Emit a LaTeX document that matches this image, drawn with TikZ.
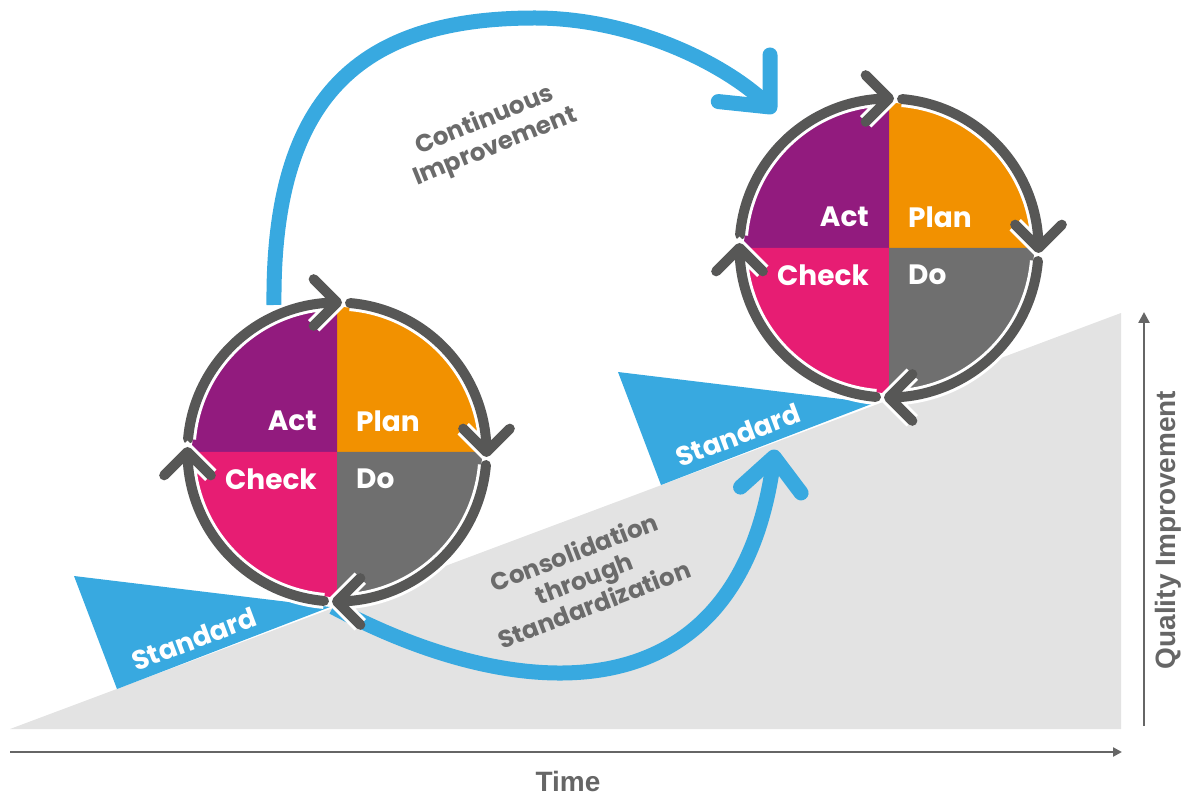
\documentclass[tikz,border=0pt]{standalone}
\usepackage{fontspec}
\setmainfont{Poppins}
\newfontfamily\axisfont{Liberation Sans}
\usetikzlibrary{arrows.meta}

\definecolor{pdcablue}{HTML}{38A9E0}
\definecolor{actpurple}{HTML}{921B7E}
\definecolor{planorange}{HTML}{F29100}
\definecolor{checkpink}{HTML}{E71D73}
\definecolor{dogray}{HTML}{6F6F6F}
\definecolor{ringgray}{HTML}{575756}
\definecolor{rampgray}{HTML}{E3E3E3}
\definecolor{notegray}{HTML}{6B6B6B}
\definecolor{axisgray}{HTML}{666666}

\begin{document}
\begin{tikzpicture}[x=1pt, y=1pt,
    ring/.style={draw=ringgray, line width=10pt, line cap=round, line join=round,
        preaction={draw=white, line width=16pt}},
    bluearc/.style={draw=pdcablue, line width=15pt},
    bluehead/.style={draw=pdcablue, line width=15pt, line cap=round, line join=round},
    phase/.style={text=white, inner sep=0pt, font=\bfseries\fontsize{28}{30}\selectfont},
    stdlabel/.style={text=white, inner sep=0pt, rotate=20.5, font=\bfseries\fontsize{27}{29}\selectfont},
    note/.style={text=notegray, inner sep=0pt, align=center, font=\bfseries\fontsize{24.5}{28}\selectfont},
    axislabel/.style={text=axisgray, inner sep=0pt, font=\axisfont\bfseries\fontsize{28}{30}\selectfont}]
    \useasboundingbox (0,0) rectangle (1186,796);

    % 1. Dốc chất lượng (nền xám)
    \fill[rampgray] (10,67) -- (1121,483) -- (1121,67) -- cycle;

    % 2. Hai trục: thời gian và chất lượng
    \draw[axisgray, line width=2.5pt, -{Triangle[length=9pt, width=9pt]}] (10,44) -- (1122,44);
    \node[axislabel] (time) at (568,15) {Time};
    \draw[axisgray, line width=2.5pt, -{Triangle[length=11pt, width=11pt]}] (1144,70) -- (1144,484);
    \node[axislabel, rotate=90] (quality) at (1168,266) {Quality Improvement};

    % 3. Hai nêm "Standard"
    \foreach \dx/\dy/\ten in {0/0/stdL, 544/204/stdR} {
        \fill[pdcablue] (74+\dx,220+\dy) -- (117+\dx,107+\dy) -- (330+\dx,189+\dy) -- cycle;
        \node[stdlabel] (\ten) at (194+\dx,157+\dy) {Standard};
    }

    % 4. Hai mũi tên xanh
    \coordinate (ciStart) at (274,491);
    \coordinate (ciTop) at (535,778);
    \coordinate (ciEnd) at (770,689);
    \draw[bluearc] (ciStart) .. controls (272,700) and (360,778) .. (ciTop)
        .. controls (630,778) and (725,734) .. (ciEnd);
    \draw[bluehead] (ciEnd) ++(90:52pt) -- (ciEnd) -- ++(174:52pt);

    \coordinate (csStart) at (333,189);
    \coordinate (csEnd) at (774,339);
    \draw[bluearc] (csStart) .. controls (527,86) and (742,81) .. (csEnd);
    \draw[bluehead] (csEnd) ++(222:45pt) -- (csEnd) -- ++(307:45pt);

    \node[note, rotate=22] (ciLabel) at (490,662) {Continuous\\Improvement};
    \node[note, rotate=21] (csLabel) at (584,218) {Consolidation\\through\\Standardization};

    % 5. Hai vòng PDCA
    \coordinate (L) at (337,344);
    \coordinate (R) at (889,548);
    \foreach \c in {L, R} {
        \fill[planorange] (\c) -- ++(0:145pt) arc[start angle=0, end angle=90, radius=145pt] -- cycle;
        \fill[actpurple] (\c) -- ++(90:145pt) arc[start angle=90, end angle=180, radius=145pt] -- cycle;
        \fill[checkpink] (\c) -- ++(180:145pt) arc[start angle=180, end angle=270, radius=145pt] -- cycle;
        \fill[dogray] (\c) -- ++(270:145pt) arc[start angle=270, end angle=360, radius=145pt] -- cycle;
        \foreach \a in {90, 0, -90, 180}
            \draw[ring] (\c) ++(\a+85:149.5pt) arc[start angle=\a+85, end angle=\a, radius=149.5pt]
                ++(\a+45:33pt) -- ++(\a+225:33pt) -- ++(\a+135:33pt);
        \node[phase, anchor=east] (act\c) at ([shift={(-20,31)}]\c) {Act};
        \node[phase, anchor=west] (plan\c) at ([shift={(19,31)}]\c) {Plan};
        \node[phase, anchor=east] (check\c) at ([shift={(-20,-27)}]\c) {Check};
        \node[phase, anchor=west] (do\c) at ([shift={(19,-27)}]\c) {Do};
    }
\end{tikzpicture}
\end{document}
